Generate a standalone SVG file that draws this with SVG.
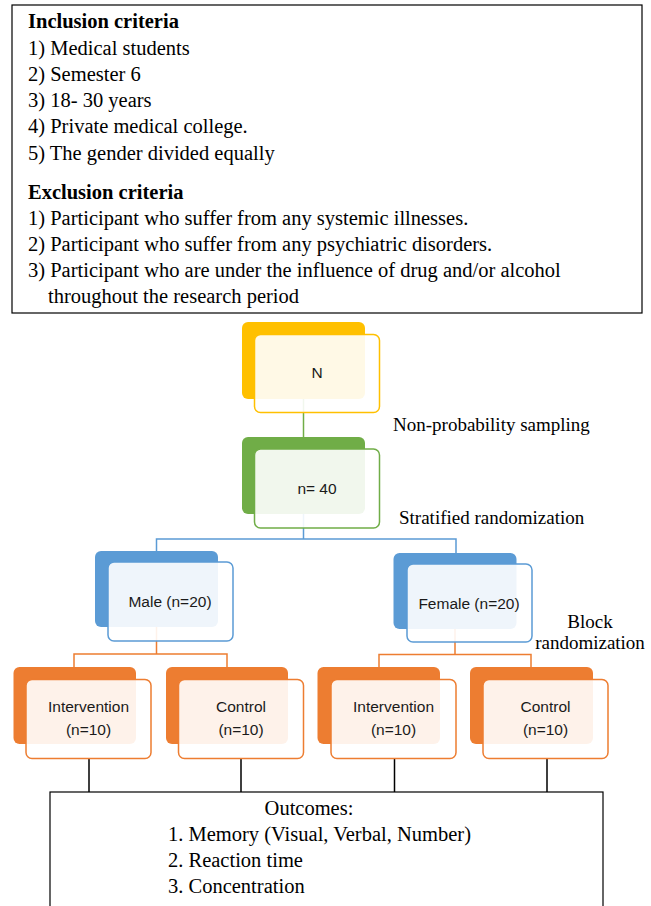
<svg xmlns="http://www.w3.org/2000/svg" width="651" height="906" viewBox="0 0 651 906">
<style>
.serif{font-family:"Liberation Serif","Times New Roman",serif;fill:#000}
.big{font-size:20.5px}
.lab{font-size:19px}
.b{font-weight:bold}
.sans{font-family:"Liberation Sans",Arial,sans-serif;font-size:15.5px;fill:#1a1a1a;text-anchor:middle}
.box{fill:#fff;stroke:#000;stroke-width:1.2}
.fr{fill:#fff;fill-opacity:0.9;stroke-width:1.5}
.y .bk{fill:#FFC000}.y .fr{stroke:#FFC000}
.g .bk{fill:#70AD47}.g .fr{stroke:#70AD47}
.bl .bk{fill:#5B9BD5}.bl .fr{stroke:#5B9BD5}
.o .bk{fill:#ED7D31}.o .fr{stroke:#ED7D31}
.c{fill:none;stroke-width:1.5}
</style>
<g id="criteria">
<rect class="box" x="12" y="5" width="630" height="308"/>
<text class="serif big b" x="28" y="28">Inclusion criteria</text>
<text class="serif big" x="28" y="55">1) Medical students</text>
<text class="serif big" x="28" y="81">2) Semester 6</text>
<text class="serif big" x="28" y="107">3) 18- 30 years</text>
<text class="serif big" x="28" y="133">4) Private medical college.</text>
<text class="serif big" x="28" y="160">5) The gender divided equally</text>
<text class="serif big b" x="28" y="199">Exclusion criteria</text>
<text class="serif big" x="28" y="225">1) Participant who suffer from any systemic illnesses.</text>
<text class="serif big" x="28" y="251">2) Participant who suffer from any psychiatric disorders.</text>
<text class="serif big" x="28" y="277">3) Participant who are under the influence of drug and/or alcohol</text>
<text class="serif big" x="48" y="303">throughout the research period</text>
</g>
<g id="connectors">
<path class="c" stroke="#70AD47" d="M303.5 399V437"/>
<path class="c" stroke="#5B9BD5" d="M303.5 514V539M156.5 551V539H456V553"/>
<path class="c" stroke="#ED7D31" d="M156.5 627V654M74 667V654H227V667M455 629V654.5M379 667V654.5H531V667"/>
<path class="c" stroke="#000" d="M89 759V792M241 759V792M394.5 759V792M547 759V792"/>
</g>
<g id="node-N" class="y">
<rect class="bk" x="242" y="322" width="123" height="77" rx="6"/>
<rect class="fr" x="254.5" y="334.5" width="125" height="78" rx="6"/>
<text class="sans" x="317" y="378">N</text>
</g>
<g id="node-n40" class="g">
<rect class="bk" x="242" y="437" width="123" height="77" rx="6"/>
<rect class="fr" x="254.5" y="449" width="125" height="79" rx="6"/>
<text class="sans" x="317" y="494">n= 40</text>
</g>
<g id="node-male" class="bl">
<rect class="bk" x="95" y="551" width="123" height="76" rx="6"/>
<rect class="fr" x="108" y="562" width="125" height="79" rx="6"/>
<text class="sans" x="170" y="607">Male (n=20)</text>
</g>
<g id="node-female" class="bl">
<rect class="bk" x="393.5" y="553" width="123" height="76" rx="6"/>
<rect class="fr" x="407" y="564" width="125" height="78" rx="6"/>
<text class="sans" x="469" y="609">Female (n=20)</text>
</g>
<g id="node-int-m" class="o">
<rect class="bk" x="13.5" y="667" width="122.5" height="77" rx="6"/>
<rect class="fr" x="26" y="679.5" width="125" height="79" rx="6"/>
<text class="sans" x="88.5" y="712">Intervention</text>
<text class="sans" x="88.5" y="735">(n=10)</text>
</g>
<g id="node-ctl-m" class="o">
<rect class="bk" x="166" y="667" width="122" height="77" rx="6"/>
<rect class="fr" x="178.5" y="679.5" width="125" height="79" rx="6"/>
<text class="sans" x="241" y="712">Control</text>
<text class="sans" x="241" y="735">(n=10)</text>
</g>
<g id="node-int-f" class="o">
<rect class="bk" x="317.5" y="667" width="122.5" height="77" rx="6"/>
<rect class="fr" x="331" y="679.5" width="125" height="79" rx="6"/>
<text class="sans" x="393.5" y="712">Intervention</text>
<text class="sans" x="393.5" y="735">(n=10)</text>
</g>
<g id="node-ctl-f" class="o">
<rect class="bk" x="470" y="667" width="123" height="77" rx="6"/>
<rect class="fr" x="483" y="679.5" width="125" height="79" rx="6"/>
<text class="sans" x="545.5" y="712">Control</text>
<text class="sans" x="545.5" y="735">(n=10)</text>
</g>
<g id="labels">
<text class="serif lab" x="393" y="431">Non-probability sampling</text>
<text class="serif lab" x="399" y="524">Stratified randomization</text>
<text class="serif lab" x="590" y="628" text-anchor="middle">Block</text>
<text class="serif lab" x="590" y="649" text-anchor="middle">randomization</text>
</g>
<g id="outcomes">
<rect class="box" x="50" y="792" width="553" height="130"/>
<text class="serif big" x="309" y="815" text-anchor="middle">Outcomes:</text>
<text class="serif big" x="168" y="841">1. Memory (Visual, Verbal, Number)</text>
<text class="serif big" x="168" y="867">2. Reaction time</text>
<text class="serif big" x="168" y="893">3. Concentration</text>
</g>
</svg>
